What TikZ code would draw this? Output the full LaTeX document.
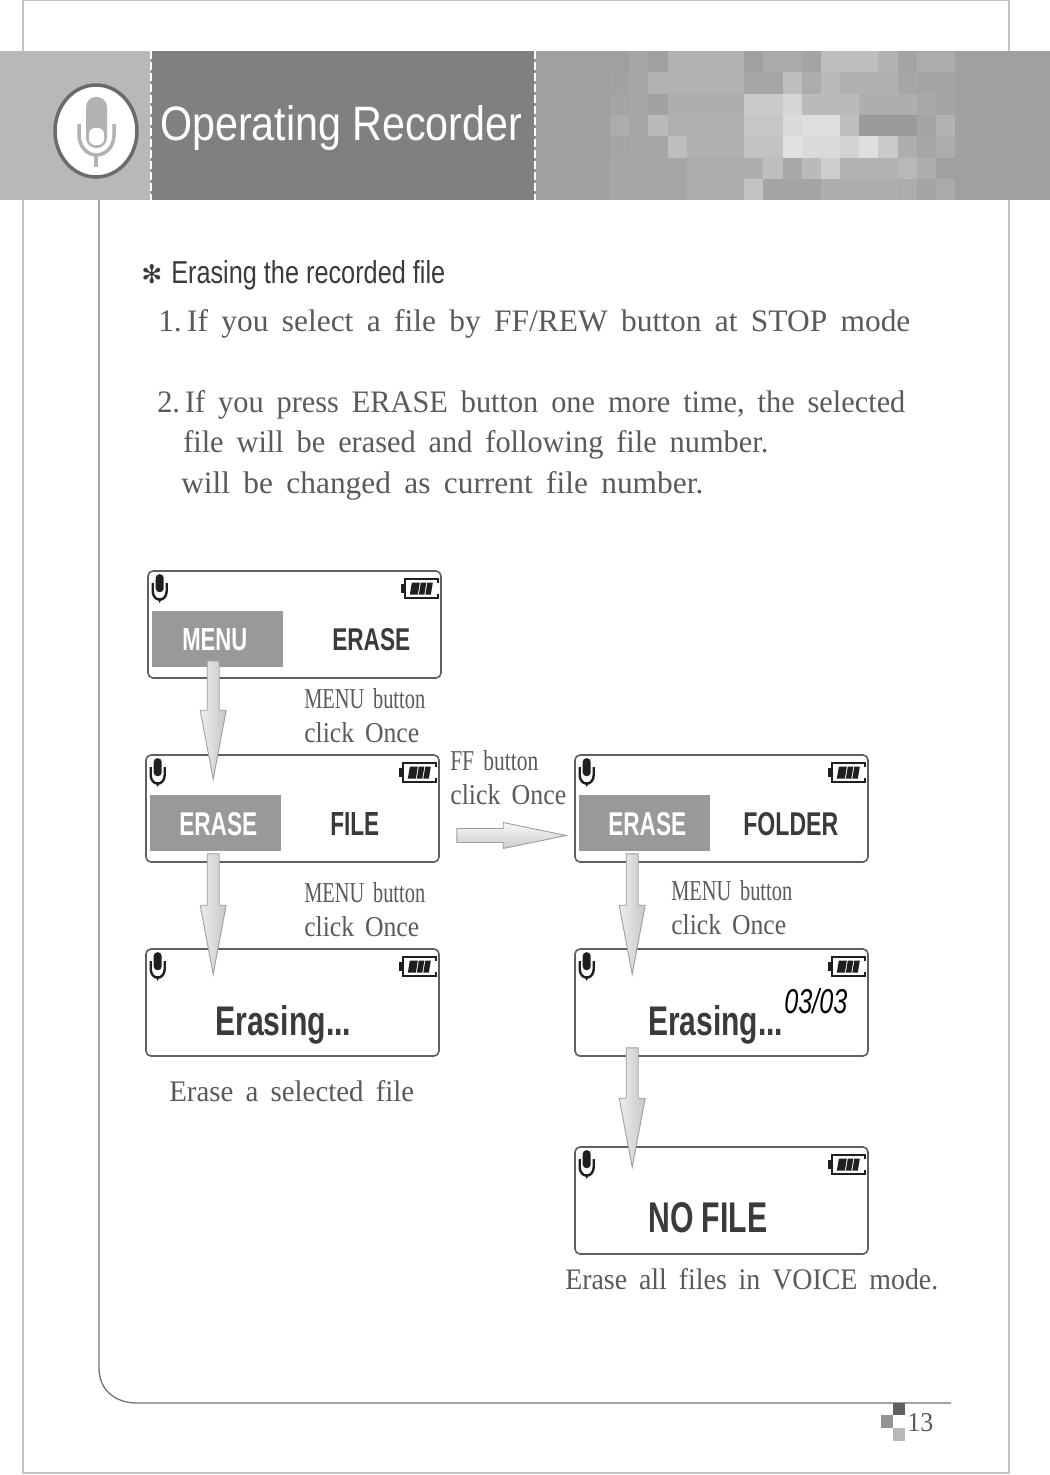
\documentclass[tikz,border=0pt]{standalone}
\usepackage{graphicx}
\usepackage{fontspec}
\setmainfont{Liberation Serif}[WordSpace=1.7]
\newfontfamily\hdfont{Liberation Sans}
\newfontfamily\symfont{DejaVu Sans}
\usetikzlibrary{calc}
\newdimen\pxu \pxu=0.75pt
\definecolor{ink}{HTML}{3A3A3A}
\definecolor{serifink}{HTML}{5A5A5A}
\definecolor{scrline}{HTML}{606060}
\definecolor{hilite}{HTML}{999999}
\definecolor{framec}{HTML}{C4C4C4}
% name, x, baseline, width, height, colour, text
\newcommand{\lab}[7]{\node[anchor=base west,inner sep=0pt,text=#6] (#1) at (#2,#3) {\resizebox{#4\pxu}{#5\pxu}{#7}};}
\newcommand{\vblock}[2]{%
  \path #1 coordinate (as) #2 coordinate (at);
  \draw[blockarrow]
    ($(as)+(-6,0)$) -- ($(as)+(6,0)$) -- ($(at)+(6,-69)$) -- ($(at)+(13,-69)$) -- (at) --
    ($(at)+(-13,-69)$) -- ($(at)+(-6,-69)$) -- cycle;}
\newcommand{\hblock}[2]{%
  \path #1 coordinate (as) #2 coordinate (at);
  \draw[blockarrowh]
    ($(as)+(0,-7)$) -- ($(at)+(-63,-7)$) -- ($(at)+(-63,-13)$) -- (at) --
    ($(at)+(-63,13)$) -- ($(at)+(-63,7)$) -- ($(as)+(0,7)$) -- cycle;}
\tikzset{
  screen/.style={draw=scrline,line width=1.6*\pxu,rounded corners=5*\pxu,fill=white,
    minimum width=293*\pxu,minimum height=107*\pxu,inner sep=0pt},
  hibox/.style={fill=hilite,draw=none,minimum width=131*\pxu,minimum height=56*\pxu,inner sep=0pt},
  blockarrow/.style={draw=black!38,line width=0.9*\pxu,left color=black!7,middle color=white,right color=black!22},
  blockarrowh/.style={draw=black!38,line width=0.9*\pxu,top color=black!3,bottom color=black!20},
  micicon/.pic={
    \fill[black!88,rounded corners=3.8*\pxu] (-3.5,-15) rectangle (4.5,3);
    \draw[black!88,line width=2.4*\pxu] (-6.5,-6) -- (-6.5,2) arc[start angle=180,end angle=0,x radius=7,y radius=8.5] -- (7.5,-6);
    \fill[black!88] (-1.5,9) -- (2.5,9) -- (0.5,14) -- cycle;
  },
  batticon/.pic={
    \draw[black!88,line width=2.2*\pxu] (37,5) -- (37,1) -- (4,1) -- (4,20) -- (37,20) -- (37,16);
    \fill[black!88] (0,6) rectangle (4,15);
    \fill[black!88] (11,4.5) -- (19,4.5) -- (17,16.5) -- (9,16.5) -- cycle;
    \fill[black!88] (20,4.5) -- (25.5,4.5) -- (23.5,16.5) -- (18,16.5) -- cycle;
    \fill[black!88] (26.5,4.5) -- (32,4.5) -- (30,16.5) -- (24.5,16.5) -- cycle;
  },
}
\begin{document}
\begin{tikzpicture}[x=0.75pt,y=-0.75pt]
\useasboundingbox (0,0) rectangle (1050,1475);
\fill[white] (0,0) rectangle (1050,1475);
% page frame and rule
\draw[framec,line width=1.5*\pxu] (23,0) -- (23,1473) -- (1009,1473) -- (1009,0);
\draw[framec,line width=1*\pxu] (23,0.5) -- (1009,0.5);
\draw[black!55,line width=1.3*\pxu] (99,200) -- (99,1368) .. controls (99,1390) and (115,1403) .. (137,1403) -- (951,1403);
% banner
\fill[fill={rgb,255:red,184;green,184;blue,184}] (0,51) rectangle (151,200);
\fill[fill={rgb,255:red,128;green,128;blue,128}] (151,51) rectangle (535,200);
\fill[fill={rgb,255:red,160;green,160;blue,160}] (535,51) rectangle (1050,200);
\foreach \vals [count=\r from 0] in {
 {160,166,160,178,178,178,178,160,170,170,164,190,190,190,178,164,172,172},
 {162,166,178,178,178,178,178,166,166,190,172,186,176,176,176,166,164,164},
 {164,166,162,174,174,174,174,202,202,214,186,186,186,174,174,174,168,164},
 {172,166,186,176,176,176,176,198,198,218,222,222,190,154,154,154,164,178},
 {164,166,166,190,176,176,176,194,194,226,218,218,210,222,202,174,166,172},
 {166,166,166,166,172,172,172,174,190,168,186,206,178,178,178,184,174,160},
 {166,166,166,166,174,174,174,194,164,164,164,174,174,174,174,172,164,170}}{
  \foreach \v [count=\c from 0] in \vals {
    \fill[fill={rgb,255:red,\v;green,\v;blue,\v}]
      ({610+19.17*\c},{51+21.3*\r}) rectangle ({610+19.17*(\c+1)+0.3},{51+21.3*(\r+1)+0.3});
  }
}
\draw[white,line width=2.2*\pxu,dash pattern=on 7.5*\pxu off 3.5*\pxu] (151,51) -- (151,200);
\draw[white,line width=2.2*\pxu,dash pattern=on 7.5*\pxu off 3.5*\pxu] (535,51) -- (535,200);
% round microphone badge
\draw[fill=white,draw=black!58,line width=3.5*\pxu] (96,131) ellipse[x radius=41,y radius=46];
\fill[black!30,rounded corners=10*\pxu] (86,97) rectangle (107,148);
\fill[white,rounded corners=6*\pxu] (89,128) rectangle (104,145);
\draw[black!30,line width=3.5*\pxu] (79,124) -- (79,135) arc[start angle=180,end angle=0,x radius=17.5,y radius=20] -- (114,124);
\draw[black!30,line width=4*\pxu] (96,155) -- (96,167);
\lab{title}{160}{140}{362}{35}{white}{\hdfont Operating Recorder}
% heading and body text
\lab{star}{141}{283}{21}{19}{ink}{\symfont ✻}
\lab{head}{171}{283}{274}{23}{ink}{\hdfont Erasing the recorded file}
\lab{ln1}{158}{331}{752}{22}{serifink}{1.\,If you select a file by FF/REW button at STOP mode}
\lab{ln2}{157}{412}{748}{22}{serifink}{2.\,If you press ERASE button one more time, the selected}
\lab{ln3}{183}{452}{585}{22}{serifink}{file will be erased and following file number.}
\lab{ln4}{181}{493}{522}{22}{serifink}{will be changed as current file number.}
% screens
\node[screen] (s1) at (294.5,624.5) {};
\node[screen] (s2) at (292.5,808.5) {};
\node[screen] (s3) at (292.5,1002.5) {};
\node[screen] (s4) at (721.5,808.5) {};
\node[screen] (s5) at (721.5,1002.5) {};
\node[screen] (s6) at (721.5,1200.5) {};
\node[hibox] (h1) at (217.5,639) {};
\node[hibox] (h2) at (215.5,823) {};
\node[hibox] (h4) at (644.5,823) {};
\foreach \s in {s1,s2,s3,s4,s5,s6}{
  \pic at ($(\s.north west)+(12,19)$) {micicon};
  \pic at ($(\s.north east)+(-41,8)$) {batticon};
}
% screen texts
\lab{m1}{182}{650}{65}{22}{white}{\hdfont\bfseries MENU}
\lab{m2}{332}{650}{78}{22}{ink}{\hdfont\bfseries ERASE}
\lab{m3}{179}{835}{78}{23}{white}{\hdfont\bfseries ERASE}
\lab{m4}{330}{835}{49}{23}{ink}{\hdfont\bfseries FILE}
\lab{m5}{608}{835}{78}{23}{white}{\hdfont\bfseries ERASE}
\lab{m6}{743}{835}{95}{23}{ink}{\hdfont\bfseries FOLDER}
\lab{m7}{215}{1035}{136}{30}{ink}{\hdfont\bfseries Erasing...}
\lab{m8}{648}{1035}{135}{30}{ink}{\hdfont\bfseries Erasing...}
\lab{m9}{784}{1013}{63}{25}{black}{\hdfont\itshape 03/03}
\lab{m10}{648}{1232}{119}{30}{ink}{\hdfont\bfseries NO FILE}
% captions
\lab{c1}{304}{708}{121}{20}{serifink}{MENU button}
\lab{c2}{304}{742}{115}{20}{serifink}{click Once}
\lab{c3}{304}{902}{121}{20}{serifink}{MENU button}
\lab{c4}{304}{936}{115}{20}{serifink}{click Once}
\lab{c5}{671}{900}{121}{20}{serifink}{MENU button}
\lab{c6}{671}{934}{115}{20}{serifink}{click Once}
\lab{c7}{450}{770}{88}{20}{serifink}{FF button}
\lab{c8}{450}{804}{116}{20}{serifink}{click Once}
\lab{c9}{169}{1101}{245}{21}{serifink}{Erase a selected file}
\lab{c10}{565}{1289}{373}{21}{serifink}{Erase all files in VOICE mode.}
% arrows
\vblock{($(s1.south west)+(66,-18)$)}{($(s2.north west)+(68,25)$)}
\vblock{($(s2.south west)+(68,-9)$)}{($(s3.north west)+(68,26)$)}
\vblock{($(s4.south west)+(58,-9)$)}{($(s5.north west)+(58,26)$)}
\vblock{($(s5.south west)+(58,-9)$)}{($(s6.north west)+(58,21)$)}
\hblock{($(s2.east)+(17,27)$)}{($(s4.west)+(-8,27)$)}
% page number mark
\fill[black!62] (893,1403) rectangle (905,1415);
\fill[black!42] (881,1415) rectangle (893,1428);
\fill[black!28] (893,1428) rectangle (905,1441);
\lab{pg}{907}{1431}{26}{18}{serifink}{13}
\end{tikzpicture}
\end{document}
